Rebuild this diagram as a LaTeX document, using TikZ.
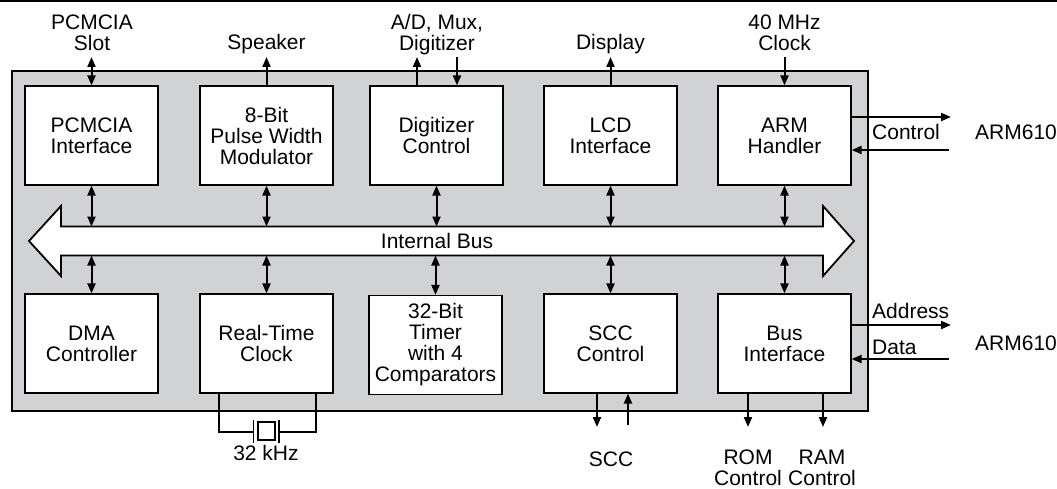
\documentclass[tikz,border=0pt]{standalone}
\usepackage{fontspec}
\setmainfont{Liberation Sans}
\usetikzlibrary{arrows.meta}
\definecolor{chipgray}{RGB}{209,210,212}
\begin{document}
\begin{tikzpicture}[x=1pt,y=-1pt,
  blk/.style={draw,line width=1.2pt,fill=white,minimum width=133pt,minimum height=99pt,align=center,inner sep=0pt},
  lbl/.style={inner sep=0pt,align=center},
  conn/.style={line width=2pt,-{Triangle[length=10pt,width=8pt]}},
  conn2/.style={line width=2pt,{Triangle[length=10pt,width=8pt]}-{Triangle[length=10pt,width=8pt]}},
  thinline/.style={line width=1.5pt},
  font=\fontsize{21}{21}\selectfont]

\useasboundingbox (0,0) rectangle (1057,489);
\draw[line width=2pt] (0,1) -- (1057,1);
\draw[line width=2.5pt,fill=chipgray] (12,71) rectangle (868,411);

% blocks
\node[blk] (pcmcia) at (91.5,135.5) {PCMCIA\\Interface};
\node[blk] (pwm) at (266.5,135.5) {8-Bit\\Pulse Width\\Modulator};
\node[blk] (dig) at (436.5,135.5) {Digitizer\\Control};
\node[blk] (lcd) at (610.5,135.5) {LCD\\Interface};
\node[blk] (arm) at (784.5,135.5) {ARM\\Handler};
\node[blk] (dma) at (91.5,343.5) {DMA\\Controller};
\node[blk] (rtc) at (266.5,343.5) {Real-Time\\Clock};
\node[blk] (timer) at (435.5,345) {32-Bit\\Timer\\with 4\\Comparators};
\node[blk] (scc) at (610.5,343.5) {SCC\\Control};
\node[blk] (busif) at (784.5,343.5) {Bus\\Interface};

% internal bus
\draw[line width=1.8pt,fill=white] (29,241) -- (61,206) -- (61,226.5) -- (823,226.5) -- (823,206) -- (854,241) -- (823,276) -- (823,255.5) -- (61,255.5) -- (61,276) -- cycle;
\coordinate (bustop) at (437,226.5);
\coordinate (busbot) at (437,255.5);
\node (buslbl) at (437,241) {Internal Bus};
\foreach \n in {pcmcia,pwm,dig,lcd,arm} \draw[conn2] (\n.south) -- (\n.south |- bustop);
\foreach \n in {dma,rtc,timer,scc,busif} \draw[conn2] (\n.north) -- (\n.north |- busbot);

% top connections
\coordinate (topline) at (0,57);
\node[lbl,anchor=north] (slot) at (92,14.5) {PCMCIA\\Slot};
\draw[conn2] (pcmcia.north) -- (pcmcia.north |- topline);
\node[lbl,anchor=base] (spk) at (266.5,50) {Speaker};
\draw[conn] (pwm.north) -- (pwm.north |- topline);
\node[lbl,anchor=north] (adlbl) at (437,14) {A/D, Mux,\\Digitizer};
\coordinate (adup) at (417,57);
\coordinate (addn) at (457,57);
\draw[conn] (dig.north -| adup) -- (adup);
\draw[conn] (addn) -- (dig.north -| addn);
\node[lbl,anchor=base] (disp) at (610.5,50) {Display};
\draw[conn] (lcd.north) -- (lcd.north |- topline);
\node[lbl,anchor=north] (clk) at (784.5,14.5) {40 MHz\\Clock};
\draw[conn] (arm.north |- topline) -- (arm.north);

% right connections
\coordinate (ctrlout) at (951,117);
\coordinate (ctrlin) at (949,150);
\draw[conn] (arm.east |- ctrlout) -- (ctrlout);
\draw[conn] (ctrlin) -- (arm.east |- ctrlin);
\node[lbl,anchor=base west] (ctrllbl) at (872,140) {Control};
\node[lbl,anchor=base west] (arm1) at (975,140) {ARM610};
\coordinate (addrout) at (951,325);
\coordinate (datain) at (949,359);
\draw[conn] (busif.east |- addrout) -- (addrout);
\draw[conn] (datain) -- (busif.east |- datain);
\node[lbl,anchor=base west] (addrlbl) at (872,318) {Address};
\node[lbl,anchor=base west] (datalbl) at (872,354) {Data};
\node[lbl,anchor=base west] (arm2) at (975,350) {ARM610};

% crystal
\coordinate (xl) at (219,432);
\coordinate (xr) at (316,432);
\draw[thinline] (rtc.south -| xl) |- (253.5,432);
\draw[thinline] (279,432) -| (rtc.south -| xr);
\draw[thinline] (253.5,420) -- (253.5,443);
\draw[thinline] (279,420) -- (279,443);
\draw[thinline] (258,422) rectangle (275,440);
\node[lbl,anchor=base] (xtal) at (266,460) {32 kHz};

% bottom connections
\coordinate (sccout) at (597,427);
\coordinate (sccin) at (628,425);
\draw[conn] (scc.south -| sccout) -- (sccout);
\draw[conn] (sccin) -- (scc.south -| sccin);
\node[lbl,anchor=base] (scclbl) at (611,466) {SCC};
\coordinate (romout) at (748,427);
\coordinate (ramout) at (823,427);
\draw[conn] (busif.south -| romout) -- (romout);
\draw[conn] (busif.south -| ramout) -- (ramout);
\node[lbl,anchor=north] (romlbl) at (748,449.5) {ROM\\Control};
\node[lbl,anchor=north] (ramlbl) at (822,449.5) {RAM\\Control};
\end{tikzpicture}
\end{document}
